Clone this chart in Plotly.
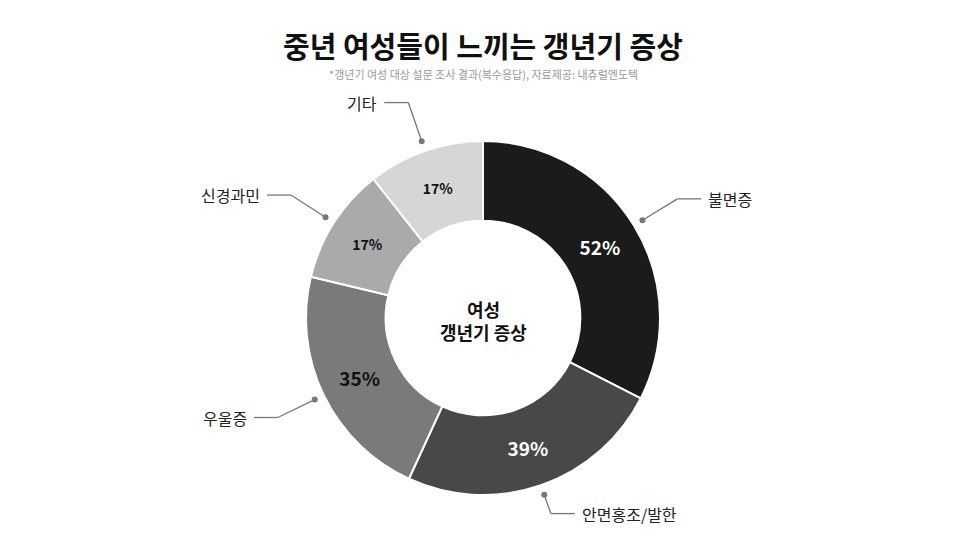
import math
import plotly.graph_objects as go

# 갱년기 증상 설문 (복수응답, %)
labels = ["불면증", "안면홍조/발한", "우울증", "신경과민", "기타"]
values = [52, 39, 35, 17, 17]
colors = ["#1b1b1b", "#484848", "#7a7a7a", "#aaaaaa", "#d6d6d6"]
text_colors = ["white", "white", "#111111", "#111111", "#111111"]
text_sizes = [19, 19, 19, 14, 14]
elbow_r = [228, 207, 228, 228, 228]   # leader line bend radius (px)

W, H = 966, 543
cx, cy, R = 483, 318, 177   # pie centre / radius in pixels


def px(x, y):
    return x / W, 1 - y / H


fig = go.Figure(go.Pie(
    labels=labels, values=values, sort=False, direction="clockwise", rotation=0,
    hole=0.55, text=[f"{v}%" for v in values], textinfo="text",
    textposition="inside", insidetextorientation="horizontal",
    textfont=dict(color=text_colors, size=text_sizes, family="Noto Sans CJK KR", weight="bold"),
    marker=dict(colors=colors, line=dict(color="white", width=2)),
    domain=dict(x=[(cx - R) / W, (cx + R) / W], y=[1 - (cy + R) / H, 1 - (cy - R) / H]),
    showlegend=False, hoverinfo="label+value",
))

# leader lines + outside labels
total = sum(values)
start = 0
shapes, annos = [], []
for lab, v, er in zip(labels, values, elbow_r):
    mid = math.radians((start + v / 2) / total * 360)
    start += v
    sx, sy = math.sin(mid), -math.cos(mid)
    dx, dy = cx + 187 * sx, cy + 187 * sy
    ex, ey = cx + er * sx, cy + er * sy
    side = 1 if sx >= 0 else -1
    hx = ex + 24 * side
    for (x0, y0), (x1, y1) in [((dx, dy), (ex, ey)), ((ex, ey), (hx, ey))]:
        a, b = px(x0, y0)
        c, d = px(x1, y1)
        shapes.append(dict(type="line", xref="paper", yref="paper", x0=a, y0=b, x1=c, y1=d,
                           line=dict(color="#777777", width=1.3)))
    a, b = px(dx - 3, dy - 3)
    c, d = px(dx + 3, dy + 3)
    shapes.append(dict(type="circle", xref="paper", yref="paper", x0=a, y0=b, x1=c, y1=d,
                       fillcolor="#777777", line=dict(width=0)))
    tx, ty = px(hx + 5 * side, ey)
    annos.append(dict(text=lab, x=tx, y=ty, xref="paper", yref="paper", showarrow=False,
                      xanchor="left" if side > 0 else "right", yanchor="middle",
                      font=dict(size=16, color="#222222")))

ccx, ccy = px(cx, cy + 2)
annos.append(dict(text="<b>여성<br>갱년기 증상</b>", x=ccx, y=ccy, xref="paper", yref="paper",
                  xanchor="center", yanchor="middle", showarrow=False,
                  font=dict(size=18, color="#111111")))
tx, ty = px(W / 2, 45)
annos.append(dict(text="<b>중년 여성들이 느끼는 갱년기 증상</b>", x=tx, y=ty, xref="paper", yref="paper",
                  xanchor="center", yanchor="middle", showarrow=False,
                  font=dict(size=29, color="#111111")))
tx, ty = px(W / 2, 74)
annos.append(dict(text="*갱년기 여성 대상 설문 조사 결과(복수응답), 자료제공: 내츄럴엔도텍", x=tx, y=ty,
                  xref="paper", yref="paper", xanchor="center", yanchor="middle", showarrow=False,
                  font=dict(size=11, color="#999999")))

fig.update_layout(
    width=W, height=H, margin=dict(l=0, r=0, t=0, b=0),
    paper_bgcolor="white", plot_bgcolor="white",
    font=dict(family="Noto Sans CJK KR"),
    shapes=shapes, annotations=annos,
)
fig.write_html("out.html", config={"displayModeBar": False},
               post_script="document.body.style.margin='0';")
